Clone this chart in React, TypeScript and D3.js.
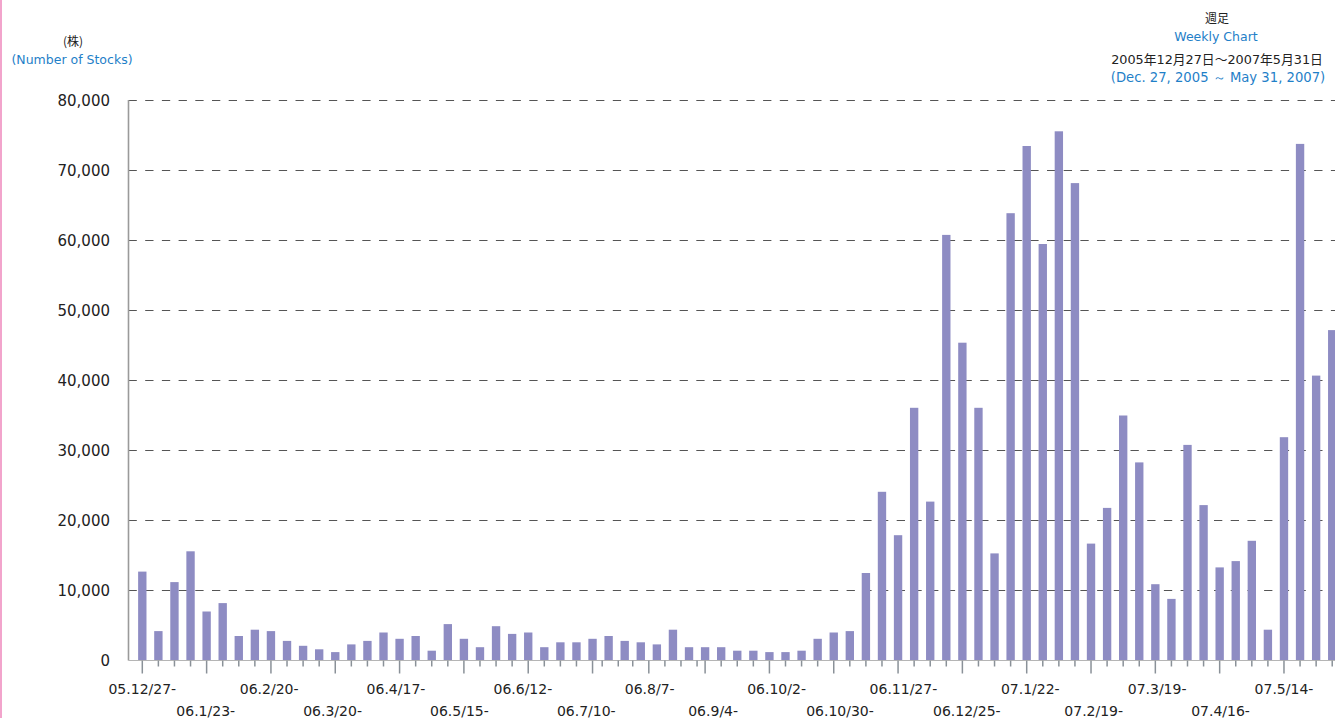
import React from "react";
import * as d3 from "d3";

// Weekly volume (number of stocks), one value per week from 2005-12-27 to 2007-05-31
const weeklyValues: number[] = [
  12700, 4200, 11200, 15600, 7000, 8200, 3500, 4400, 4200, 2800,
  2100, 1600, 1200, 2300, 2800, 4000, 3100, 3500, 1400, 5200,
  3100, 1900, 4900, 3800, 4000, 1900, 2600, 2600, 3100, 3500,
  2800, 2600, 2300, 4400, 1900, 1900, 1900, 1400, 1400, 1200,
  1200, 1400, 3100, 4000, 4200, 12500, 24100, 17900, 36100, 22700,
  60800, 45400, 36100, 15300, 63900, 73500, 59500, 75600, 68200, 16700,
  21800, 35000, 28300, 10900, 8800, 30800, 22200, 13300, 14200, 17100,
  4400, 31900, 73800, 40700, 47200,
];

const xLabels: string[] = [
  "05.12/27-", "06.1/23-", "06.2/20-", "06.3/20-", "06.4/17-", "06.5/15-",
  "06.6/12-", "06.7/10-", "06.8/7-", "06.9/4-", "06.10/2-", "06.10/30-",
  "06.11/27-", "06.12/25-", "07.1/22-", "07.2/19-", "07.3/19-", "07.4/16-",
  "07.5/14-",
];

// Axis tick slots (in week units) as they appear on the original axis
const majorTickSlots: number[] = [0, 4, 8, 12, 16, 20, 24, 28, 31.5, 35, 39, 43, 47, 51, 55, 59, 63, 67, 71];
const minorTickSlots: number[] = [
  1, 2, 3, 5, 6, 7, 9, 10, 11, 13, 14, 15, 17, 18, 19, 21, 22, 23, 25, 26, 27,
  28.6, 29.6, 30.5, 32.5, 33.5, 34.5, 36, 37, 38, 40, 41, 42, 44, 45, 46,
  48, 49, 50, 52, 53, 54, 56, 57, 58, 60, 61, 62, 64, 65, 66, 68, 69, 70,
  72, 73, 74,
];
const lastLabelSlot = 71;

const yTicks: number[] = [0, 10000, 20000, 30000, 40000, 50000, 60000, 70000, 80000];

const W = 1335;
const H = 718;
const LATIN = "'DejaVu Sans', Verdana, sans-serif";
const MIXED = "'DejaVu Sans', 'Noto Sans CJK JP', sans-serif";
const CJK = "'Noto Sans CJK JP', 'DejaVu Sans', sans-serif";
const BLUE = "#1f80c8";
const BAR = "#8e8cc3";

export default function App() {
  const n = weeklyValues.length;
  const step = 16.08;
  const x0 = 134.26;
  const x = d3
    .scaleBand<number>()
    .domain(d3.range(n))
    .range([x0, x0 + n * step])
    .paddingInner(0.48)
    .paddingOuter(0.24);
  const center = (i: number) => (x(i) as number) + x.bandwidth() / 2;
  const slot = d3.scaleLinear().domain([0, n - 1]).range([center(0), center(n - 1)]);
  const labelX = d3
    .scalePoint<string>()
    .domain(xLabels)
    .range([slot(0), slot(lastLabelSlot)]);

  const y = d3.scaleLinear().domain([0, 80000]).range([660.5, 100.5]);
  const fmt = d3.format(",");
  const axisX = 128.5;
  const baseY = y(0);

  return (
    <svg
      width={W}
      height={H}
      style={{ position: "absolute", left: 0, top: 0, background: "#fff" }}
    >
      <rect x={0} y={0} width={W} height={H} fill="#fff" />
      <rect x={0} y={0} width={2} height={H} fill="#f2a4cc" />

      {/* header texts */}
      <text x={73} y={46} textAnchor="middle" fontFamily={CJK} fontSize={12} fill="#222">
        (株)
      </text>
      <text x={72} y={64} textAnchor="middle" fontFamily={LATIN} fontSize={12.5} fill={BLUE}>
        (Number of Stocks)
      </text>

      <text x={1217} y={23} textAnchor="middle" fontFamily={CJK} fontSize={12} fill="#222">
        週足
      </text>
      <text x={1216} y={41} textAnchor="middle" fontFamily={LATIN} fontSize={12.5} fill={BLUE}>
        Weekly Chart
      </text>
      <text x={1217} y={64} textAnchor="middle" fontFamily={MIXED} fontSize={12.8} fill="#222">
        2005年12月27日～2007年5月31日
      </text>
      <text x={1218} y={82} textAnchor="middle" fontFamily={LATIN} fontSize={13.2} fill={BLUE}>
        (Dec. 27, 2005 ～ May 31, 2007)
      </text>

      {/* gridlines */}
      {yTicks
        .filter((t) => t > 0)
        .map((t) => (
          <line
            key={"g" + t}
            x1={axisX}
            x2={W}
            y1={y(t)}
            y2={y(t)}
            stroke="#555"
            strokeWidth={1}
            strokeDasharray="8.3 8.4"
          />
        ))}

      {/* y labels */}
      {yTicks.map((t) => (
        <text
          key={"yl" + t}
          x={110}
          y={y(t) + 5.5}
          textAnchor="end"
          fontFamily={LATIN}
          fontSize={15}
          fill="#222"
        >
          {fmt(t)}
        </text>
      ))}

      {/* bars */}
      {weeklyValues.map((v, i) => (
        <rect
          key={"b" + i}
          x={x(i)}
          y={y(v)}
          width={x.bandwidth()}
          height={baseY - y(v)}
          fill={BAR}
        />
      ))}

      {/* axes */}
      <line x1={axisX} x2={axisX} y1={100} y2={baseY} stroke="#9a9a9a" strokeWidth={1.6} />
      <line x1={axisX} x2={W} y1={baseY} y2={baseY} stroke="#b5b5b5" strokeWidth={1} />
      {minorTickSlots.map((s) => (
        <line
          key={"mt" + s}
          x1={slot(s)}
          x2={slot(s)}
          y1={baseY}
          y2={baseY + 6}
          stroke="#8a9198"
          strokeWidth={1.5}
        />
      ))}
      {majorTickSlots.map((s) => (
        <line
          key={"Mt" + s}
          x1={slot(s)}
          x2={slot(s)}
          y1={baseY}
          y2={baseY + 13}
          stroke="#8a9198"
          strokeWidth={1.5}
        />
      ))}

      {/* x labels */}
      {xLabels.map((l, i) => (
        <text
          key={"xl" + l}
          x={labelX(l)}
          y={i % 2 === 0 ? 694 : 716}
          textAnchor="middle"
          fontFamily={LATIN}
          fontSize={14}
          fill="#222"
        >
          {l}
        </text>
      ))}
    </svg>
  );
}
